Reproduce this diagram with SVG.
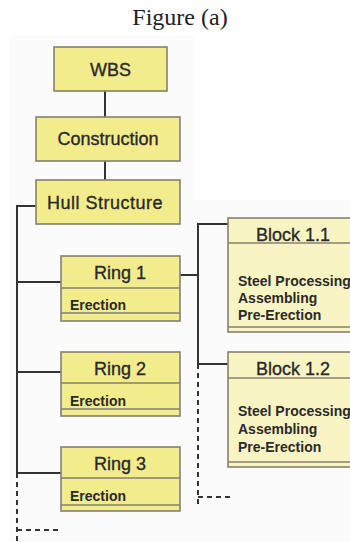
<svg xmlns="http://www.w3.org/2000/svg" width="350" height="542" viewBox="0 0 350 542">
<style>
.title{font-family:"Liberation Serif","Times New Roman",serif;font-size:24px;fill:#222;}
.lbl{font-family:"Liberation Sans",Arial,sans-serif;font-size:18px;fill:#2a2a2a;stroke:#2a2a2a;stroke-width:0.35;}
.sm{font-family:"Liberation Sans",Arial,sans-serif;font-size:14px;font-weight:bold;fill:#2a2a2a;}
.bt{font-family:"Liberation Sans",Arial,sans-serif;font-size:14px;font-weight:bold;fill:#2a2a2a;}
.box{fill:#F3EC8C;stroke:#858070;stroke-width:1.6;}
.blk{fill:#F8F4C4;stroke:#858070;stroke-width:1.6;}
.div{stroke:#858070;stroke-width:1.4;fill:none;}
.ln{stroke:#333;stroke-width:2;fill:none;}
.dash{stroke:#333;stroke-width:2;fill:none;stroke-dasharray:5 4;}
</style>
<rect width="350" height="542" fill="#ffffff"/>
<path d="M9 35 H194 V200 H350 V542 H9 Z" fill="#fbfbfb"/>
<text class="title" x="180" y="25" text-anchor="middle">Figure (a)</text>
<g id="connectors">
<path class="ln" d="M105 91 V117"/>
<path class="ln" d="M105 161 V180"/>
<path class="ln" d="M36 206 H17 V473"/>
<path class="ln" d="M17 282 H61"/>
<path class="ln" d="M17 372 H61"/>
<path class="ln" d="M17 473 H61"/>
<path class="dash" d="M17 473 V542"/>
<path class="dash" d="M17 530 H60"/>
<path class="ln" d="M180 275 H198"/>
<path class="ln" d="M228 224 H198 V364 H228"/>
<path class="dash" d="M198 364 V505"/>
<path class="dash" d="M198 497 H230"/>
</g>
<g id="wbs">
<rect class="box" x="54" y="47" width="113" height="44"/>
<text class="lbl" x="110.5" y="76" text-anchor="middle">WBS</text>
</g>
<g id="construction">
<rect class="box" x="36" y="117" width="144" height="44"/>
<text class="lbl" x="108" y="145" text-anchor="middle">Construction</text>
</g>
<g id="hull">
<rect class="box" x="36" y="180" width="144" height="44"/>
<text class="lbl" x="105" y="209" text-anchor="middle" letter-spacing="0.5">Hull Structure</text>
</g>
<g id="ring1">
<rect class="box" x="61" y="256" width="119" height="65"/>
<path class="div" d="M61 288 H180 M61 313 H180"/>
<text class="lbl" x="120" y="279" text-anchor="middle">Ring 1</text>
<text class="sm" x="70" y="310">Erection</text>
</g>
<g id="ring2">
<rect class="box" x="61" y="352" width="119" height="64"/>
<path class="div" d="M61 383 H180 M61 409 H180"/>
<text class="lbl" x="120" y="375" text-anchor="middle">Ring 2</text>
<text class="sm" x="70" y="406">Erection</text>
</g>
<g id="ring3">
<rect class="box" x="61" y="447" width="119" height="64"/>
<path class="div" d="M61 478 H180 M61 505 H180"/>
<text class="lbl" x="120" y="470" text-anchor="middle">Ring 3</text>
<text class="sm" x="70" y="501">Erection</text>
</g>
<g id="block11">
<rect class="blk" x="228" y="218" width="130" height="114"/>
<path class="div" d="M228 243 H350 M228 327 H350"/>
<text class="lbl" x="293" y="241" text-anchor="middle">Block 1.1</text>
<text class="bt" x="238" y="286">Steel Processing</text>
<text class="bt" x="238" y="303">Assembling</text>
<text class="bt" x="238" y="320">Pre-Erection</text>
</g>
<g id="block12">
<rect class="blk" x="228" y="352" width="130" height="115"/>
<path class="div" d="M228 378 H350 M228 462 H350"/>
<text class="lbl" x="293" y="375" text-anchor="middle">Block 1.2</text>
<text class="bt" x="238" y="416">Steel Processing</text>
<text class="bt" x="238" y="434">Assembling</text>
<text class="bt" x="238" y="452">Pre-Erection</text>
</g>
</svg>
